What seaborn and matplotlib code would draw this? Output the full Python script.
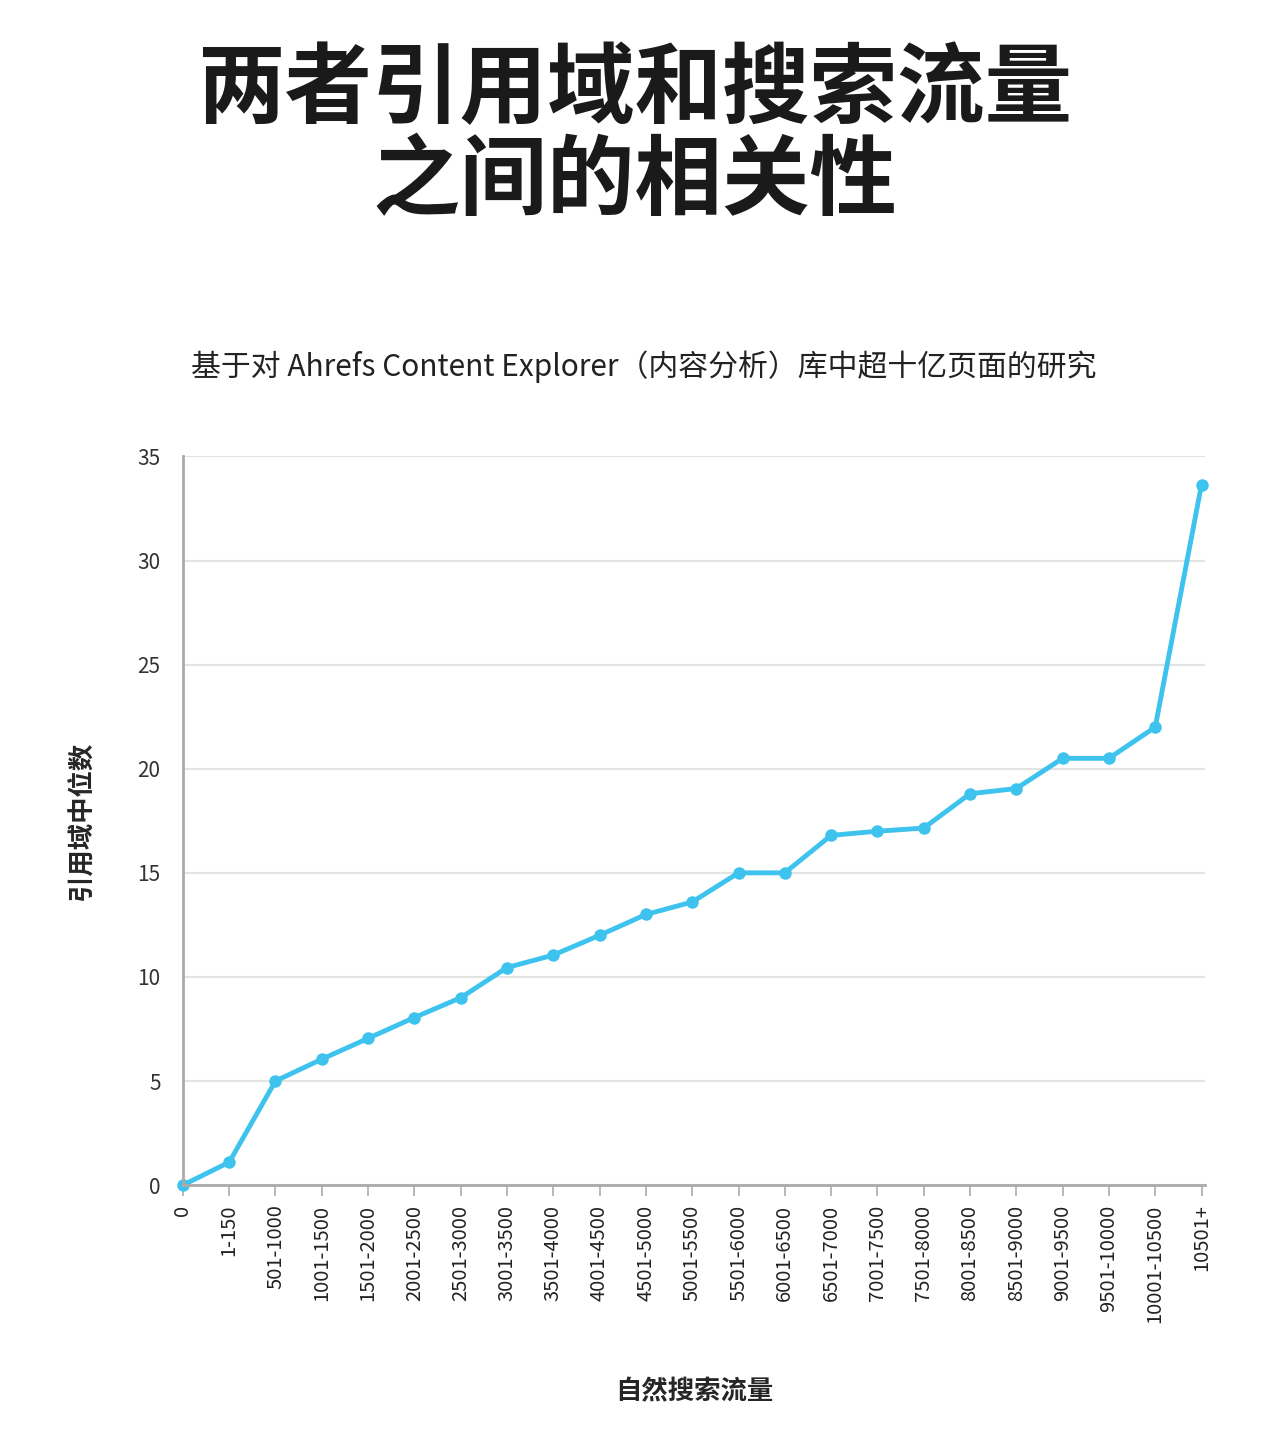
import matplotlib
matplotlib.use("Agg")
import matplotlib.pyplot as plt
import seaborn as sns
import pandas as pd

categories = ["0","1-150","501-1000","1001-1500","1501-2000","2001-2500","2501-3000",
              "3001-3500","3501-4000","4001-4500","4501-5000","5001-5500","5501-6000",
              "6001-6500","6501-7000","7001-7500","7501-8000","8001-8500","8501-9000",
              "9001-9500","9501-10000","10001-10500","10501+"]
values = [0, 1.1, 5.0, 6.05, 7.05, 8.05, 9.0, 10.45, 11.05, 12.0, 13.0, 13.6, 15.0,
          15.0, 16.8, 17.0, 17.15, 18.8, 19.05, 20.5, 20.5, 22.0, 33.65]

sns.set_theme(style="white")
plt.rcParams['font.family'] = ['Noto Sans CJK SC', 'DejaVu Sans']

df = pd.DataFrame({"x": range(len(categories)), "y": values})
fig = plt.figure(figsize=(12.7, 14.4), dpi=100)
ax = fig.add_axes([0.144, 0.177, 0.805, 0.506])
color = "#3ec3ee"
sns.lineplot(data=df, x="x", y="y", ax=ax, color=color, linewidth=3.5,
             marker="o", markersize=9, markeredgewidth=0, clip_on=False)

ax.set_xlim(0, 22.08)
ax.set_ylim(0, 35)
ax.set_yticks(range(0, 36, 5))
ax.set_xticks(range(len(categories)))
ax.set_xticklabels(categories, rotation=90, fontsize=14.5, color="#222222")
ax.tick_params(axis='y', labelsize=15, colors="#333333", length=8, width=1.2, color="#aaaaaa", pad=8)
ax.tick_params(axis='x', length=8, width=1.2, color="#aaaaaa", bottom=True, pad=6)
ax.grid(axis='y', color="#e3e3e3", linewidth=1.5)
for s in ["top", "right"]:
    ax.spines[s].set_visible(False)
for s in ["left", "bottom"]:
    ax.spines[s].set_color("#aaaaaa")
    ax.spines[s].set_linewidth(2)
ax.set_xlabel("自然搜索流量", fontsize=19, fontweight="bold", labelpad=40)
ax.set_ylabel("引用域中位数", fontsize=19, fontweight="bold", labelpad=30)

fig.text(0.5, 0.905, "两者引用域和搜索流量\n之间的相关性", ha="center", va="center",
         fontsize=63, fontweight="bold", linespacing=1.05, color="#1a1a1a")
fig.text(0.507, 0.745, "基于对 Ahrefs Content Explorer（内容分析）库中超十亿页面的研究",
         ha="center", va="center", fontsize=21.5, fontweight="medium", color="#222222")

fig.savefig("out.png", dpi=100, facecolor="white")
